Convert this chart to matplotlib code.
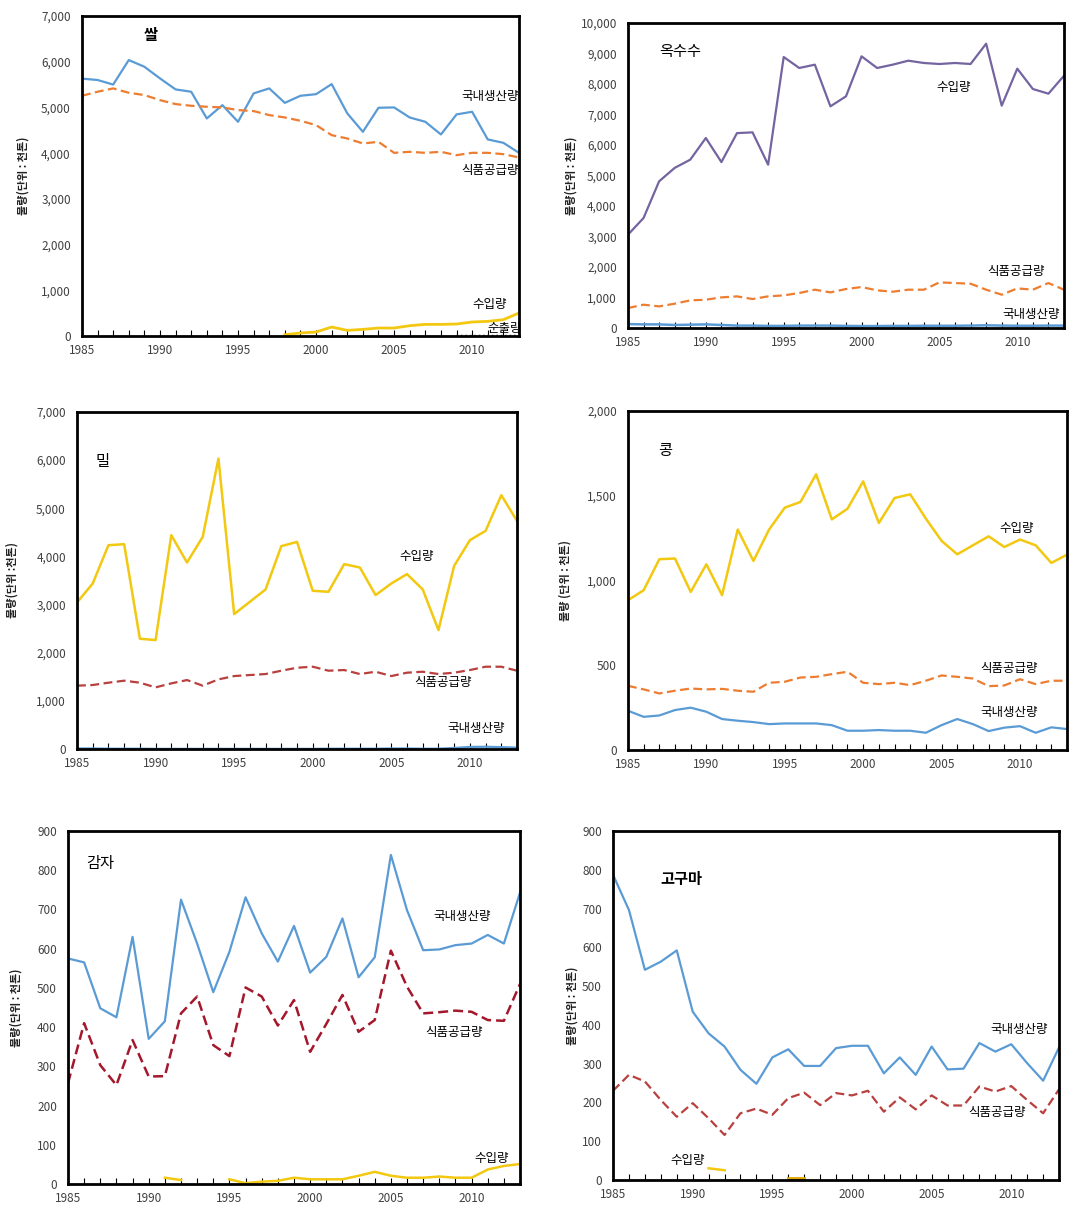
import numpy as np
import matplotlib
matplotlib.use("Agg")
import matplotlib.pyplot as plt
from matplotlib.ticker import FuncFormatter, MultipleLocator

plt.rcParams['font.family'] = ['Noto Sans CJK KR', 'DejaVu Sans']

years = np.arange(1985, 2014)
nan = np.nan

# 쌀
rice_prod = [5630, 5600, 5500, 6036, 5890, 5635, 5394, 5343, 4759, 5050, 4686, 5307, 5416, 5100,
             5255, 5290, 5510, 4870, 4467, 4993, 5000, 4780, 4686, 4409, 4847, 4905, 4300, 4226, 4007]
rice_food = [5255, 5343, 5416, 5321, 5270, 5160, 5073, 5036, 5015, 5000, 4942, 4920, 4832, 4781,
             4708, 4613, 4394, 4321, 4212, 4248, 4007, 4029, 4007, 4029, 3956, 4007, 4007, 3978, 3905]
rice_import = [nan] * 13 + [30, 66, 88, 197, 124, 146, 175, 175, 226, 255, 255, 263, 307, 321, 358, 504]
rice_export = [nan] * 24 + [12, 10, 12, 10, 12]

# 옥수수
corn_import = [3060, 3607, 4810, 5250, 5520, 6230, 5440, 6390, 6415, 5355, 8885, 8525, 8634, 7268,
               7596, 8907, 8525, 8634, 8765, 8689, 8656, 8689, 8656, 9322, 7290, 8503, 7836, 7683, 8273]
corn_food = [656, 765, 710, 798, 907, 929, 1005, 1038, 951, 1038, 1071, 1148, 1257, 1169,
             1279, 1344, 1235, 1191, 1257, 1257, 1497, 1475, 1453, 1257, 1093, 1300, 1257, 1475, 1257]
corn_prod = [130, 120, 120, 100, 110, 120, 100, 80, 80, 70, 70, 80, 80, 80,
             70, 65, 65, 70, 70, 75, 75, 75, 80, 90, 80, 75, 75, 80, 80]

# 밀
wheat_import = [3043, 3437, 4232, 4253, 2289, 2261, 4440, 3873, 4405, 6030, 2801, 3057, 3313, 4212,
                4301, 3285, 3264, 3838, 3769, 3195, 3437, 3631, 3313, 2469, 3804, 4336, 4530, 5270, 4737]
wheat_food = [1314, 1328, 1376, 1418, 1376, 1279, 1362, 1431, 1314, 1445, 1514, 1535, 1556, 1625,
              1687, 1708, 1625, 1639, 1556, 1604, 1514, 1584, 1604, 1556, 1584, 1639, 1708, 1708, 1625]
wheat_prod = [10, 10, 5, 5, 5, 2, 2, 2, 2, 2, 2, 2, 2, 2,
              2, 2, 5, 5, 5, 5, 10, 10, 5, 5, 20, 42, 45, 37, 27]

# 콩
soy_import = [884, 943, 1126, 1130, 933, 1096, 914, 1301, 1116, 1301, 1430, 1464, 1627, 1361,
              1424, 1585, 1340, 1487, 1509, 1365, 1234, 1155, 1208, 1261, 1198, 1242, 1208, 1104, 1153]
soy_food = [379, 358, 334, 350, 363, 358, 361, 350, 344, 397, 403, 428, 432, 448,
            462, 397, 389, 397, 383, 409, 440, 432, 422, 377, 381, 418, 389, 409, 409]
soy_prod = [232, 196, 204, 236, 250, 226, 183, 173, 165, 153, 157, 157, 157, 147,
            114, 114, 118, 114, 114, 102, 147, 183, 153, 112, 132, 141, 102, 134, 124]

# 감자
potato_prod = [575, 565, 448, 425, 630, 370, 415, 725, 613, 489, 592, 731, 639, 567,
               658, 539, 579, 677, 527, 578, 839, 698, 596, 598, 609, 613, 635, 613, 743]
potato_food = [257, 410, 303, 252, 367, 274, 275, 435, 478, 354, 326, 501, 478, 404,
               469, 337, 408, 482, 388, 418, 595, 503, 435, 438, 442, 439, 418, 416, 510]
potato_import = [nan] * 6 + [16, 10, nan, nan, 12, 2, 6, 8,
                             16, 12, 12, 12, 21, 31, 21, 16, 16, 19, 16, 16, 37, 46, 51]

# 고구마
sweet_prod = [787, 696, 542, 563, 592, 434, 378, 344, 284, 248, 316, 337, 294, 294,
              340, 346, 346, 275, 316, 271, 344, 285, 287, 353, 331, 350, 301, 256, 342]
sweet_food = [230, 271, 254, 206, 163, 198, 159, 116, 172, 184, 168, 211, 225, 193,
              224, 218, 230, 176, 213, 182, 218, 192, 192, 241, 228, 242, 206, 172, 234]
sweet_import = [nan] * 6 + [30, 25] + [nan] * 21
sweet_import2 = [nan] * 11 + [5, 5] + [nan] * 16

BLUE = '#5b9bd5'
ORANGE = '#ed7d31'
YELLOW = '#f2c811'
PURPLE = '#7464a0'
RED = '#b8403e'
DKRED = '#a3182c'
TXT = '#404040'

fig = plt.figure(figsize=(10.74, 12.30), dpi=100)
fig.patch.set_facecolor('white')


def setup(ax, ymax, ystep, ylabel, lx):
    ax.set_xlim(1985, 2013)
    ax.set_ylim(0, ymax)
    ax.xaxis.set_major_locator(MultipleLocator(5))
    ax.xaxis.set_minor_locator(MultipleLocator(1))
    ax.yaxis.set_major_locator(MultipleLocator(ystep))
    ax.yaxis.set_major_formatter(FuncFormatter(lambda v, p: f'{int(v):,}'))
    ax.tick_params(axis='x', which='both', direction='in', length=4, width=0.8,
                   labelsize=8.5, labelcolor=TXT, pad=6)
    ax.tick_params(axis='y', length=0, labelsize=8.5, labelcolor=TXT, pad=8)
    for s in ax.spines.values():
        s.set_linewidth(2)
    ax.set_ylabel(ylabel, fontsize=8, fontweight='bold', color='#222222')
    ax.yaxis.set_label_coords(lx, 0.5)


LBL = 9

# 쌀
ax = fig.add_axes([0.0763, 0.7268, 0.4069, 0.2602])
ax.plot(years, rice_prod, color=BLUE, lw=1.6)
ax.plot(years, rice_food, color=ORANGE, lw=1.6, ls=(0, (4, 2)))
ax.plot(years, rice_import, color=YELLOW, lw=2)
ax.plot(years, rice_export, color='#555555', lw=1.2, ls=':')
setup(ax, 7000, 1000, '물량(단위 : 천톤)', -0.12)
ax.text(1989.4, 6590, '쌀', fontsize=11, fontweight='bold', ha='center', va='center')
ax.text(2013.0, 5250, '국내생산량', fontsize=LBL, ha='right', va='center')
ax.text(2013.0, 3610, '식품공급량', fontsize=LBL, ha='right', va='center')
ax.text(2012.2, 680, '수입량', fontsize=LBL, ha='right', va='center')
ax.text(2013.2, 175, '순출량', fontsize=LBL, ha='right', va='center', clip_on=True)

# 옥수수
ax = fig.add_axes([0.5847, 0.7333, 0.406, 0.248])
ax.plot(years, corn_import, color=PURPLE, lw=1.6)
ax.plot(years, corn_food, color=ORANGE, lw=1.6, ls=(0, (4, 2)))
ax.plot(years, corn_prod, color=BLUE, lw=1.8)
setup(ax, 10000, 1000, '물량(단위 : 천톤)', -0.115)
ax.text(1987.0, 9050, '옥수수', fontsize=11, ha='left', va='center')
ax.text(2005.9, 7870, '수입량', fontsize=LBL, ha='center', va='center')
ax.text(2009.9, 1840, '식품공급량', fontsize=LBL, ha='center', va='center')
ax.text(2010.9, 430, '국내생산량', fontsize=LBL, ha='center', va='center')

# 밀
ax = fig.add_axes([0.0717, 0.3911, 0.4097, 0.274])
ax.plot(years, wheat_import, color=YELLOW, lw=1.8)
ax.plot(years, wheat_food, color=RED, lw=1.6, ls=(0, (4, 2)))
ax.plot(years, wheat_prod, color=BLUE, lw=1.6)
setup(ax, 7000, 1000, '물량(단위 :천톤)', -0.134)
ax.text(1986.65, 5960, '밀', fontsize=11, ha='center', va='center')
ax.text(2006.6, 3995, '수입량', fontsize=LBL, ha='center', va='center')
ax.text(2008.3, 1370, '식품공급량', fontsize=LBL, ha='center', va='center')
ax.text(2010.4, 415, '국내생산량', fontsize=LBL, ha='center', va='center')

# 콩
ax = fig.add_axes([0.5847, 0.3902, 0.4088, 0.2756])
ax.plot(years, soy_import, color=YELLOW, lw=1.8)
ax.plot(years, soy_food, color=ORANGE, lw=1.6, ls=(0, (4, 2)))
ax.plot(years, soy_prod, color=BLUE, lw=1.6)
setup(ax, 2000, 500, '물량 (단위 : 천톤)', -0.128)
ax.text(1987.4, 1770, '콩', fontsize=11, ha='center', va='center')
ax.text(2009.8, 1310, '수입량', fontsize=LBL, ha='center', va='center')
ax.text(2009.3, 484, '식품공급량', fontsize=LBL, ha='center', va='center')
ax.text(2009.3, 224, '국내생산량', fontsize=LBL, ha='center', va='center')

# 감자
ax = fig.add_axes([0.0633, 0.0374, 0.4209, 0.287])
ax.plot(years, potato_prod, color=BLUE, lw=1.6)
ax.plot(years, potato_food, color=DKRED, lw=1.8, ls=(0, (4, 2)))
ax.plot(years, potato_import, color=YELLOW, lw=1.8)
setup(ax, 900, 100, '물량(단위 : 천톤)', -0.10)
ax.text(1987.0, 816, '감자', fontsize=11, ha='center', va='center')
ax.text(2009.4, 681, '국내생산량', fontsize=LBL, ha='center', va='center')
ax.text(2008.9, 385, '식품공급량', fontsize=LBL, ha='center', va='center')
ax.text(2011.25, 66, '수입량', fontsize=LBL, ha='center', va='center')

# 고구마
ax = fig.add_axes([0.5708, 0.0407, 0.4153, 0.2837])
ax.plot(years, sweet_prod, color=BLUE, lw=1.6)
ax.plot(years, sweet_food, color=RED, lw=1.6, ls=(0, (4, 2)))
ax.plot(years, sweet_import, color=YELLOW, lw=1.8)
ax.plot(years, sweet_import2, color='#e0a800', lw=2)
setup(ax, 900, 100, '물량(단위 : 천톤)', -0.078)
ax.text(1989.3, 776, '고구마', fontsize=11, fontweight='bold', ha='center', va='center')
ax.text(2010.5, 389, '국내생산량', fontsize=LBL, ha='center', va='center')
ax.text(2009.1, 173, '식품공급량', fontsize=LBL, ha='center', va='center')
ax.text(1989.7, 50, '수입량', fontsize=LBL, ha='center', va='center')

fig.savefig('out.png', dpi=100, facecolor='white')
